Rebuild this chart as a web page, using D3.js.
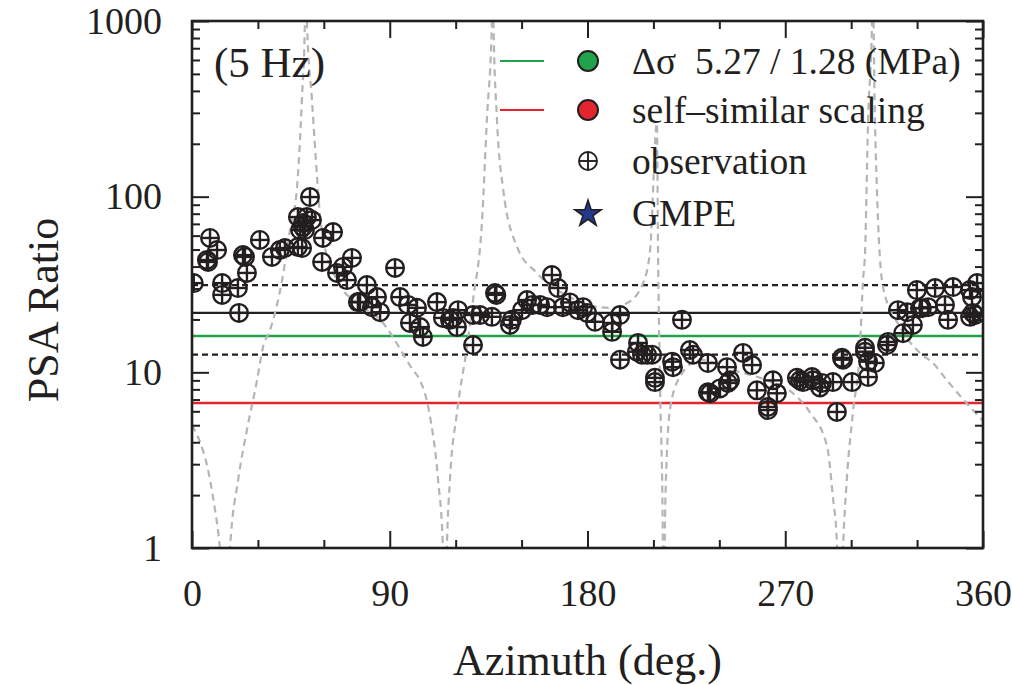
<!DOCTYPE html>
<html>
<head>
<meta charset="utf-8">
<script src="https://cdn.jsdelivr.net/npm/d3@7"></script>
<style>
  body { margin: 0; background: #fff; }
  text { font-family: "Liberation Serif", "Times New Roman", serif; fill: #231f20; }
</style>
</head>
<body>
<div id="canvas"></div>
<script>
"use strict"

/* azimuth ticks */
let azMajor = [0, 90, 180, 270, 360];
let azMinor = [30, 60, 120, 150, 210, 240, 300, 330];

/* ratio ticks (log) */
let ratioMajor = [1, 10, 100, 1000];
let ratioMinor = [2, 3, 4, 5, 6, 7, 8, 9, 20, 30, 40, 50, 60, 70, 80, 90,
                  200, 300, 400, 500, 600, 700, 800, 900];

/* observed PSA ratios: azimuth (deg) and ratio */
let obsAz = [0.8, 6.8, 7.3, 8.2, 11.4, 13.7, 13.7, 20.9, 21.4, 23.2, 24.1, 25.0,
  30.9, 36.4, 40.0, 42.3, 48.2, 50.1, 49.2, 50.5, 48.2, 52.3, 53.7, 54.6, 50.5, 51.4,
  59.6, 64.2, 59.2, 66.0, 68.7, 70.5, 72.8, 75.5, 76.5, 79.6, 81.9, 84.2, 85.6,
  92.4, 94.7, 98.3, 102.4, 99.2, 103.8, 105.1, 111.5, 114.2, 117.4, 118.8, 121.1,
  120.6, 127.9, 127.9, 131.1, 136.5, 137.9, 138.5, 144.7, 145.6, 150.2, 152.5, 155.0,
  158.4, 161.6, 163.8, 166.6, 168.8, 172.0, 175.7, 178.0, 179.8, 183.4, 191.2, 191.2,
  194.8, 194.8, 202.5, 203.0, 204.8, 207.1, 209.4, 210.7, 210.7, 218.5, 218.9, 223.0,
  226.6, 228.0, 234.8, 234.8, 235.8, 240.3, 243.5, 243.9, 244.9, 250.8, 254.9, 257.1,
  262.1, 262.1, 264.4, 266.2, 275.3, 276.7, 278.1, 282.2, 282.6, 285.8, 286.7, 291.7,
  293.5, 295.8, 296.3, 300.4, 306.3, 306.3, 307.7, 307.7, 310.8, 316.3, 316.8, 321.3,
  323.6, 325.5, 328.1, 329.9, 331.3, 332.2, 335.0, 338.2, 342.7, 344.1, 346.4, 354.1,
  355.0, 355.4, 354.1, 356.4, 357.3];
let obsRatio = [32.2, 43.6, 42.5, 58.2, 49.7, 32.2, 27.6, 30.2, 21.8, 46.5, 45.4, 36.8,
  56.7, 45.4, 49.7, 51.0, 51.7, 51.0, 64.6, 70.8, 76.6, 76.6, 99.5, 73.6, 67.2, 64.6,
  58.2, 62.9, 42.5, 36.8, 39.8, 33.5, 44.8, 25.1, 25.1, 31.4, 23.5, 26.8, 22.0,
  39.3, 26.8, 24.2, 23.3, 19.1, 18.1, 15.9, 25.1, 20.4, 19.9, 20.4, 22.6,
  18.1, 21.2, 14.3, 21.2, 20.7, 28.3, 27.6, 18.6, 19.9, 22.6, 25.8, 24.2,
  24.2, 23.5, 35.8, 30.2, 23.5, 25.0, 22.6, 23.5, 21.8, 19.4, 19.1, 17.0,
  21.2, 11.8, 13.1, 14.7, 12.6, 12.6, 12.6, 9.3, 8.8, 11.5, 10.7, 19.9,
  13.4, 12.6, 11.3, 7.7, 7.6, 8.1, 10.7, 8.7, 9.0, 12.9, 11.0, 7.9,
  6.35, 6.1, 9.0, 7.6, 9.3, 9.0, 8.8, 9.4, 9.0, 8.2, 8.7, 8.8,
  5.95, 12.1, 11.8, 8.8, 13.8, 13.1, 11.5, 9.4, 11.3, 14.3, 14.9, 22.6,
  16.7, 22.0, 18.6, 29.4, 23.2, 23.2, 23.5, 30.2, 24.2, 19.9, 30.6, 29.4,
  26.8, 21.8, 20.7, 21.2, 32.2];

/* reference levels */
let obsMean = 21.8;
let obsPlusSigma = 31.4;
let obsMinusSigma = 12.6;
let stressDropLevel = 16.1;
let selfSimilarLevel = 6.69;

/* gray dashed pattern curve, one branch per piece between zeros and poles */
let patternBranches = [
  [[0, 5.0], [4, 3.9], [7, 2.9], [10, 1.8], [12.7, 1.0], [14.5, 0.5]],
  [[16, 0.5], [17.3, 1.0], [21, 2.44], [25, 4.7], [29.6, 9.0], [32.3, 13.9], [35.5, 17.4],
   [41, 33.5], [44.6, 64.6], [47.8, 113], [50, 355], [51.4, 1000], [51.8, 3000]],
  [[52, 3000], [52.3, 1000], [54.6, 355], [56.9, 130], [58.3, 77], [59.6, 59], [66, 33.5],
   [77.8, 23.5], [85.6, 19.9], [100.6, 10.3], [103.8, 9.0], [108, 5.9], [112, 2.44],
   [114.2, 1.0], [114.8, 0.5]],
  [[115.5, 0.5], [116, 1.0], [117.4, 2.44], [120.6, 5.9], [125.1, 13.9], [127.9, 25.8],
   [132, 73], [134.2, 274], [136.5, 1000], [136.8, 3000]],
  [[136.9, 3000], [137.2, 1000], [138.8, 274], [141.5, 113], [147.9, 52], [157, 36.7],
   [172, 26.8], [180, 24.2], [190, 23.3], [198, 24.8], [205.3, 32.2], [208.5, 49.7],
   [211.6, 262], [212.1, 50], [213, 8.7], [214.3, 1.07], [214.5, 0.5]],
  [[214.8, 0.5], [215.3, 1.5], [216.2, 3.6], [217.5, 6.1], [222, 9.4], [231.2, 11.8],
   [246.2, 10.3], [261.7, 9.0], [273.5, 7.6], [281.3, 5.9], [289, 3.8], [291.7, 1.95],
   [293.5, 1.07], [294, 0.5]],
  [[295.5, 0.5], [296.3, 1.0], [298, 2.44], [300.8, 5.9], [304, 13.9], [305.4, 33.5],
   [306.3, 47.6], [307.7, 274], [309.5, 1000], [309.8, 3000]],
  [[309.9, 3000], [310.2, 1000], [311.7, 113], [314.5, 30.6], [322.2, 18.1], [331.3, 12.9],
   [337.2, 11.3], [343.6, 9.0], [355.4, 6.1], [360, 5.3]]
];

/* legend entries */
let legendLabels = ["\u0394\u03c3  5.27 / 1.28 (MPa)", "self\u2013similar scaling", "observation", "GMPE"];

let ink = "#231f20";
let green = "#22a24b";
let red = "#e3262d";

let plotLeft = 192, plotRight = 983, plotTop = 21, plotBottom = 548;

let drawing = d3.select("#canvas")
    .append("svg")
    .attr("width", 1012)
    .attr("height", 685);

let x = d3.scaleLinear().domain([0, 360]).range([plotLeft, plotRight]);
let y = d3.scaleLog().domain([1, 1000]).range([plotBottom, plotTop]);

drawing.append("clipPath").attr("id", "plotClip")
    .append("rect")
    .attr("x", plotLeft).attr("y", plotTop)
    .attr("width", plotRight - plotLeft).attr("height", plotBottom - plotTop);

let plot = drawing.append("g").attr("clip-path", "url(#plotClip)");

/* horizontal reference lines */
let hline = function (value, color, dash, width) {
    plot.append("line")
        .attr("x1", plotLeft).attr("x2", plotRight)
        .attr("y1", y(value)).attr("y2", y(value))
        .attr("stroke", color)
        .attr("stroke-width", width)
        .attr("stroke-dasharray", dash);
};
hline(obsPlusSigma, ink, "6,4", 2.2);
hline(obsMinusSigma, ink, "6,4", 2.2);
hline(obsMean, ink, null, 2.2);
hline(stressDropLevel, green, null, 2.5);
hline(selfSimilarLevel, red, null, 2.5);

/* pattern curve */
let patternLine = d3.line()
    .x(d => x(d[0]))
    .y(d => y(d[1]))
    .curve(d3.curveMonotoneX);

plot.selectAll(".pattern")
    .data(patternBranches)
    .enter().append("path")
    .attr("class", "pattern")
    .attr("d", patternLine)
    .attr("fill", "none")
    .attr("stroke", "#b5b5b5")
    .attr("stroke-width", 2.2)
    .attr("stroke-dasharray", "7,5");

/* circle-plus marker */
let circlePlus = function (sel, r, w) {
    sel.append("circle").attr("r", r).attr("fill", "none")
        .attr("stroke", ink).attr("stroke-width", w);
    sel.append("line").attr("x1", -r).attr("x2", r)
        .attr("stroke", ink).attr("stroke-width", w);
    sel.append("line").attr("y1", -r).attr("y2", r)
        .attr("stroke", ink).attr("stroke-width", w);
};

let obsData = obsAz.map((a, i) => [a, obsRatio[i]]);
let obsMarks = plot.selectAll(".obs")
    .data(obsData)
    .enter().append("g")
    .attr("class", "obs")
    .attr("transform", d => "translate(" + x(d[0]) + "," + y(d[1]) + ")");
circlePlus(obsMarks, 8.8, 2.4);

/* axes, ticks inward */
let tidy = g => {
    g.select(".domain").remove();
    g.selectAll(".tick line").attr("stroke", ink).attr("stroke-width", 2);
};

drawing.append("g").attr("transform", "translate(0," + plotBottom + ")")
    .call(d3.axisBottom(x).tickValues(azMinor).tickSize(-8).tickFormat(""))
    .call(tidy);
drawing.append("g").attr("transform", "translate(0," + plotBottom + ")")
    .call(d3.axisBottom(x).tickValues(azMajor).tickSize(-17).tickPadding(31).tickFormat(d3.format("d")))
    .call(tidy)
    .call(g => g.selectAll("text").attr("font-size", 38).attr("fill", ink));
drawing.append("g").attr("transform", "translate(0," + plotTop + ")")
    .call(d3.axisTop(x).tickValues(azMinor).tickSize(-8).tickFormat(""))
    .call(tidy);
drawing.append("g").attr("transform", "translate(0," + plotTop + ")")
    .call(d3.axisTop(x).tickValues(azMajor).tickSize(-17).tickFormat(""))
    .call(tidy);

drawing.append("g").attr("transform", "translate(" + plotLeft + ",0)")
    .call(d3.axisLeft(y).tickValues(ratioMinor).tickSize(-8).tickFormat(""))
    .call(tidy);
drawing.append("g").attr("transform", "translate(" + plotLeft + ",0)")
    .call(d3.axisLeft(y).tickValues(ratioMajor).tickSize(-17).tickPadding(30).tickFormat(d3.format("d")))
    .call(tidy)
    .call(g => g.selectAll("text").attr("font-size", 38).attr("fill", ink));
drawing.append("g").attr("transform", "translate(" + plotRight + ",0)")
    .call(d3.axisRight(y).tickValues(ratioMinor).tickSize(-8).tickFormat(""))
    .call(tidy);
drawing.append("g").attr("transform", "translate(" + plotRight + ",0)")
    .call(d3.axisRight(y).tickValues(ratioMajor).tickSize(-17).tickFormat(""))
    .call(tidy);

/* frame */
drawing.append("rect")
    .attr("x", plotLeft).attr("y", plotTop)
    .attr("width", plotRight - plotLeft).attr("height", plotBottom - plotTop)
    .attr("fill", "none")
    .attr("stroke", ink)
    .attr("stroke-width", 2.6);

/* axis titles */
drawing.append("text")
    .attr("x", (plotLeft + plotRight) / 2).attr("y", 675)
    .attr("text-anchor", "middle")
    .attr("font-size", 44)
    .text("Azimuth (deg.)");

drawing.append("text")
    .attr("transform", "translate(58,310) rotate(-90)")
    .attr("text-anchor", "middle")
    .attr("font-size", 44)
    .text("PSA Ratio");

/* frequency label */
drawing.append("text")
    .attr("x", 214).attr("y", 77)
    .attr("font-size", 43)
    .text("(5 Hz)");

/* legend */
let legY = [61, 110, 161, 213];
let legend = drawing.append("g");

legend.append("line").attr("x1", 500).attr("x2", 544)
    .attr("y1", legY[0]).attr("y2", legY[0])
    .attr("stroke", green).attr("stroke-width", 2.2);
legend.append("line").attr("x1", 500).attr("x2", 544)
    .attr("y1", legY[1]).attr("y2", legY[1])
    .attr("stroke", red).attr("stroke-width", 2.2);
legend.append("circle").attr("cx", 588).attr("cy", legY[0]).attr("r", 10)
    .attr("fill", green).attr("stroke", ink).attr("stroke-width", 2);
legend.append("circle").attr("cx", 588).attr("cy", legY[1]).attr("r", 10)
    .attr("fill", red).attr("stroke", ink).attr("stroke-width", 2);
let legObs = legend.append("g").attr("transform", "translate(588," + legY[2] + ")");
circlePlus(legObs, 9, 1.9);
legend.append("path")
    .attr("d", d3.symbol().type(d3.symbolStar).size(215)())
    .attr("transform", "translate(588," + (legY[3] + 1) + ")")
    .attr("fill", "#233a8b")
    .attr("stroke", ink)
    .attr("stroke-width", 1.6);

legend.selectAll(".legtext")
    .data(legendLabels)
    .enter().append("text")
    .attr("class", "legtext")
    .attr("x", 632)
    .attr("y", (d, i) => legY[i])
    .attr("dy", "0.35em")
    .attr("font-size", 37.5)
    .style("white-space", "pre")
    .text(d => d);
</script>
</body>
</html>
